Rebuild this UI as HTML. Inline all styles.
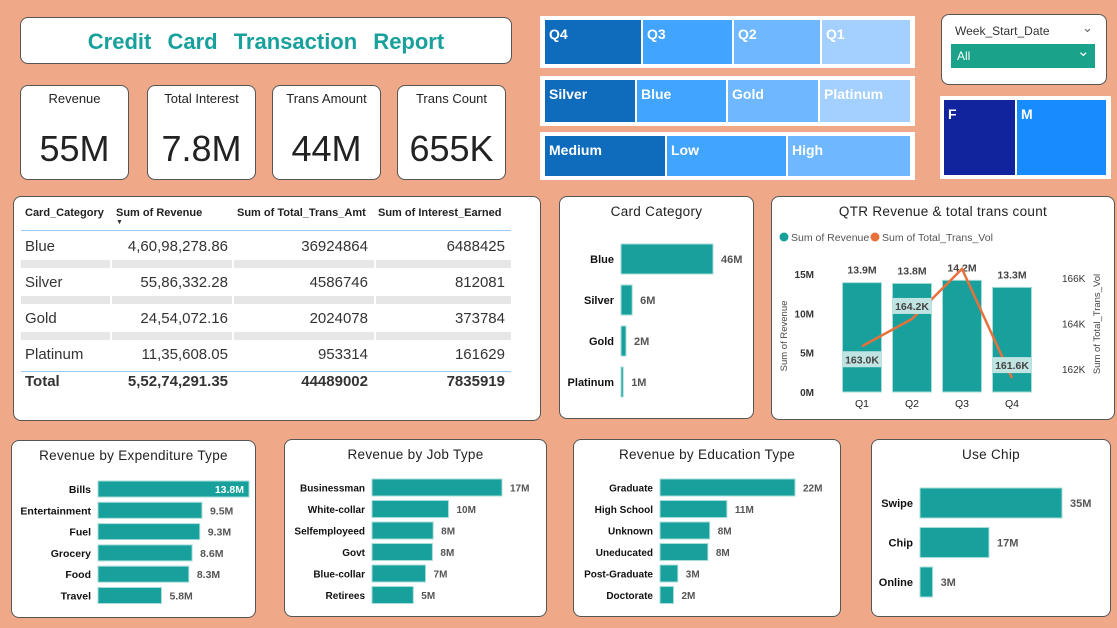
<!DOCTYPE html>
<html><head><meta charset="utf-8">
<style>
body{margin:0;width:1117px;height:628px;background:#EFA888;position:relative;overflow:hidden;font-family:"Liberation Sans",sans-serif;}
.p{position:absolute;background:#fff;border:1px solid #555;border-radius:8px;box-sizing:border-box;}
.t{position:absolute;white-space:nowrap;}
.kl{position:absolute;left:0;right:0;top:5px;text-align:center;font-size:13px;color:#222;}
.kv{position:absolute;left:0;right:0;top:42px;text-align:center;font-size:36px;color:#222;}
.ct{position:absolute;left:0;right:0;top:7px;text-align:center;font-size:13.5px;color:#222;letter-spacing:0.3px}
.fr{position:absolute;background:#fff;}
.cell{position:absolute;color:#fff;font-weight:bold;font-size:14px;padding:6px 0 0 4px;box-sizing:border-box;}
.th{position:absolute;top:10px;font-size:11px;font-weight:bold;color:#222}
.td{position:absolute;font-size:15px;color:#333}
</style></head><body>
<div class="p" style="left:20px;top:17px;width:492px;height:47px;">
<div class="t" style="left:0;right:0;top:11px;text-align:center;font-size:22px;font-weight:bold;color:#17a09c;word-spacing:10px">Credit Card Transaction Report</div></div>

<div class="p" style="left:20px;top:85px;width:109px;height:95px;"><div class="kl">Revenue</div><div class="kv">55M</div></div>
<div class="p" style="left:147px;top:85px;width:109px;height:95px;"><div class="kl">Total Interest</div><div class="kv">7.8M</div></div>
<div class="p" style="left:272px;top:85px;width:109px;height:95px;"><div class="kl">Trans Amount</div><div class="kv">44M</div></div>
<div class="p" style="left:397px;top:85px;width:109px;height:95px;"><div class="kl">Trans Count</div><div class="kv">655K</div></div>

<div class="fr" style="left:540px;top:16px;width:375px;height:52px;">
<div class="cell" style="left:5px;top:4px;width:96px;height:44px;background:#0f6cbd">Q4</div>
<div class="cell" style="left:103px;top:4px;width:89px;height:44px;background:#41a5ff">Q3</div>
<div class="cell" style="left:194px;top:4px;width:86px;height:44px;background:#6fb8ff">Q2</div>
<div class="cell" style="left:282px;top:4px;width:88px;height:44px;background:#a3d0ff">Q1</div></div>
<div class="fr" style="left:540px;top:76px;width:375px;height:50px;">
<div class="cell" style="left:5px;top:4px;width:90px;height:42px;background:#0f6cbd">Silver</div>
<div class="cell" style="left:97px;top:4px;width:89px;height:42px;background:#41a5ff">Blue</div>
<div class="cell" style="left:188px;top:4px;width:90px;height:42px;background:#6fb8ff">Gold</div>
<div class="cell" style="left:280px;top:4px;width:90px;height:42px;background:#a3d0ff">Platinum</div></div>
<div class="fr" style="left:540px;top:132px;width:375px;height:48px;">
<div class="cell" style="left:5px;top:4px;width:120px;height:40px;background:#0f6cbd">Medium</div>
<div class="cell" style="left:127px;top:4px;width:119px;height:40px;background:#41a5ff">Low</div>
<div class="cell" style="left:248px;top:4px;width:122px;height:40px;background:#6fb8ff">High</div></div>

<div class="p" style="left:941px;top:14px;width:166px;height:71px;">
<div class="t" style="left:13px;top:9px;font-size:12px;color:#333">Week_Start_Date</div>
<div class="t" style="left:140px;top:5px;font-size:13px;color:#666">⌄</div>
<div style="position:absolute;left:9px;top:29px;width:144px;height:24px;background:#1aa38a;">
<div class="t" style="left:6px;top:5px;font-size:12px;color:#fff">All</div><div class="t" style="left:126px;top:-2px;font-size:15px;color:#fff">⌄</div></div></div>
<div class="fr" style="left:940px;top:96px;width:171px;height:83px;">
<div class="cell" style="left:4px;top:4px;width:71px;height:75px;background:#12239e">F</div>
<div class="cell" style="left:77px;top:4px;width:89px;height:75px;background:#168cff">M</div></div>

<div class="p" style="left:13px;top:196px;width:528px;height:225px;">
<div class="th" style="left:11px">Card_Category</div>
<div class="th" style="left:102px">Sum of Revenue</div><div class="t" style="left:102px;top:22px;font-size:7px;color:#333">▼</div>
<div class="th" style="left:223px">Sum of Total_Trans_Amt</div>
<div class="th" style="left:364px">Sum of Interest_Earned</div>
<div style="position:absolute;left:7px;top:33px;width:490px;height:1px;background:#9cc9f5"></div>
<div id="tbody"></div>
<div style="position:absolute;left:7px;top:174px;width:490px;height:1px;background:#9cc9f5"></div>
<div class="td" style="left:11px;top:176px;font-weight:bold">Total</div>
<div class="td" style="right:312px;top:176px;font-weight:bold">5,52,74,291.35</div>
<div class="td" style="right:172px;top:176px;font-weight:bold">44489002</div>
<div class="td" style="right:35px;top:176px;font-weight:bold">7835919</div>
</div>

<div class="p" style="left:559px;top:196px;width:195px;height:223px;"><div class="ct">Card Category</div><svg id="cc" width="195" height="223" style="position:absolute;left:-1px;top:-1px"></svg></div>

<div class="p" style="left:771px;top:196px;width:344px;height:224px;">
<div class="ct">QTR Revenue &amp; total trans count</div>
<svg id="qtr" width="344" height="224" style="position:absolute;left:-1px;top:-1px"></svg></div>

<div class="p" style="left:11px;top:440px;width:245px;height:178px;"><div class="ct">Revenue by Expenditure Type</div><svg id="ex" width="245" height="178" style="position:absolute;left:-1px;top:-1px"></svg></div>
<div class="p" style="left:284px;top:439px;width:263px;height:178px;"><div class="ct">Revenue by Job Type</div><svg id="jb" width="263" height="178" style="position:absolute;left:-1px;top:-1px"></svg></div>
<div class="p" style="left:573px;top:439px;width:268px;height:178px;"><div class="ct">Revenue by Education Type</div><svg id="ed" width="268" height="178" style="position:absolute;left:-1px;top:-1px"></svg></div>
<div class="p" style="left:871px;top:439px;width:240px;height:178px;"><div class="ct">Use Chip</div><svg id="uc" width="240" height="178" style="position:absolute;left:-1px;top:-1px"></svg></div>

<script>
const tblCats=["Blue","Silver","Gold","Platinum"];
const tblRev=["4,60,98,278.86","55,86,332.28","24,54,072.16","11,35,608.05"];
const tblAmt=["36924864","4586746","2024078","953314"];
const tblInt=["6488425","812081","373784","161629"];

const ccCats=["Blue","Silver","Gold","Platinum"];
const ccVals=[46.1,5.6,2.5,1.1];
const ccLabels=["46M","6M","2M","1M"];
const exCats=["Bills","Entertainment","Fuel","Grocery","Food","Travel"];
const exVals=[13.8,9.5,9.3,8.6,8.3,5.8];
const exLabels=["13.8M","9.5M","9.3M","8.6M","8.3M","5.8M"];
const jbCats=["Businessman","White-collar","Selfemployeed","Govt","Blue-collar","Retirees"];
const jbVals=[17.0,10.0,8.0,7.9,7.0,5.4];
const jbLabels=["17M","10M","8M","8M","7M","5M"];
const edCats=["Graduate","High School","Unknown","Uneducated","Post-Graduate","Doctorate"];
const edVals=[22.0,10.9,8.1,7.8,2.9,2.2];
const edLabels=["22M","11M","8M","8M","3M","2M"];
const ucCats=["Swipe","Chip","Online"];
const ucVals=[35.0,17.0,3.1];
const ucLabels=["35M","17M","3M"];

const qCats=["Q1","Q2","Q3","Q4"];
const qRev=[13.9,13.8,14.2,13.3];
const qRevLabels=["13.9M","13.8M","14.2M","13.3M"];
const qVol=[163.0,164.2,166.4,161.6];
const qVolLabels=["163.0K","164.2K","","161.6K"];
const qLeftTicks=[0,5,10,15];
const qRightTicks=[162,164,166];

const NS="http://www.w3.org/2000/svg";
function mk(svg,tag,attrs,txt){const e=document.createElementNS(NS,tag);for(const k in attrs)e.setAttribute(k,attrs[k]);if(txt!==undefined)e.textContent=txt;svg.appendChild(e);return e;}

const tb=document.getElementById('tbody');
tblCats.forEach((c,i)=>{
  const y=41+i*36;
  const row=document.createElement('div');
  
  
  row.style.cssText='position:absolute;left:0;top:'+y+'px;width:100%;height:30px';
  row.innerHTML='<div class="td" style="left:11px;top:0">'+c+'</div><div class="td" style="right:312px;top:0">'+tblRev[i]+'</div><div class="td" style="right:172px;top:0">'+tblAmt[i]+'</div><div class="td" style="right:35px;top:0">'+tblInt[i]+'</div>';
  tb.appendChild(row);
  if(i<3){[[7,89],[98,120],[220,140],[362,135]].forEach(b=>{const d=document.createElement('div');d.style.cssText='position:absolute;left:'+b[0]+'px;top:'+(y+22)+'px;width:'+b[1]+'px;height:8px;background:#e6e6e6';tb.appendChild(d);});}
});

function hbar(id,cats,vals,labels,x0,maxW,maxV,y0,step,bh,fs,inside){
  const svg=document.getElementById(id);
  const sx=v=>v/maxV*maxW;
  cats.forEach((c,i)=>{
    const y=y0+i*step;
    const l=mk(svg,'text',{x:x0-7,y:y+bh/2+4,'text-anchor':'end','font-size':fs,'font-weight':'bold',fill:'#111'},c);
    
    
    const r=mk(svg,'rect',{x:x0,y:y,width:sx(vals[i]),height:bh,fill:'#17a09c',stroke:'#a8dcd9','stroke-width':1});
    
    
    const isIn=inside&&i===0;
    const v=mk(svg,'text',{x:isIn?x0+sx(vals[i])-5:x0+sx(vals[i])+8,y:y+bh/2+4,'text-anchor':isIn?'end':'start','font-size':fs,'font-weight':'bold',fill:isIn?'#fff':'#555'},labels[i]);
    
    
  });
}
hbar('cc',ccCats,ccVals,ccLabels,62,92,46.1,48,41,30,11,false);
hbar('ex',exCats,exVals,exLabels,87,151,13.8,41,21.3,16,10.5,true);
hbar('jb',jbCats,jbVals,jbLabels,88,130,17,40,21.5,17,10,false);
hbar('ed',edCats,edVals,edLabels,87,135,22,40,21.5,17,10,false);
hbar('uc',ucCats,ucVals,ucLabels,49,142,35,49,39.5,30,11,false);

(function(){
  const svg=document.getElementById('qtr');
  const ox=771, oy=196;
  const yL=v=>392-oy-v*118/15;
  const yR=v=>369-oy-(v-162)*22.75;
  const cx=i=>862-ox+i*50;
  const bw=39;
  mk(svg,'circle',{cx:13,cy:41,r:4.5,fill:'#17a09c'});
  mk(svg,'text',{x:20,y:45,'font-size':10.5,fill:'#555'},'Sum of Revenue');
  mk(svg,'circle',{cx:104,cy:41,r:4.5,fill:'#e8703a'});
  mk(svg,'text',{x:111,y:45,'font-size':10.5,fill:'#555'},'Sum of Total_Trans_Vol');
  qLeftTicks.forEach(t=>mk(svg,'text',{x:43,y:yL(t)+4,'text-anchor':'end','font-size':10,'font-weight':'bold',fill:'#333'},t+'M'));
  qRightTicks.forEach(t=>mk(svg,'text',{x:291,y:yR(t)+4,'font-size':10,fill:'#333'},t+'K'));
  mk(svg,'text',{x:16,y:140,'font-size':9.5,fill:'#444','text-anchor':'middle',transform:'rotate(-90 16 140)'},'Sum of Revenue');
  mk(svg,'text',{x:329,y:128,'font-size':9.5,fill:'#444','text-anchor':'middle',transform:'rotate(-90 329 128)'},'Sum of Total_Trans_Vol');
  qCats.forEach((c,i)=>{
    const r=mk(svg,'rect',{x:cx(i)-bw/2,y:yL(qRev[i]),width:bw,height:yL(0)-yL(qRev[i]),fill:'#17a09c',stroke:'#a8dcd9','stroke-width':1});
    
    
    mk(svg,'text',{x:cx(i),y:yL(qRev[i])-9,'text-anchor':'middle','font-size':10.5,'font-weight':'bold',fill:'#444'},qRevLabels[i]);
    mk(svg,'text',{x:cx(i),y:211,'text-anchor':'middle','font-size':10.5,fill:'#222'},c);
  });
  const pts=qVol.map((v,i)=>(cx(i))+','+yR(v)).join(' ');
  const ln=mk(svg,'polyline',{points:pts,fill:'none',stroke:'#e8703a','stroke-width':2.5});
  
  
  qVol.forEach((v,i)=>{
    if(!qVolLabels[i])return;
    const ly=i===0?yR(v)+13:yR(v)-13;
    mk(svg,'rect',{x:cx(i)-bw/2,y:ly-8,width:bw,height:16,fill:'#bfe4e2'});
    mk(svg,'text',{x:cx(i),y:ly+4,'text-anchor':'middle','font-size':10.5,'font-weight':'bold',fill:'#444'},qVolLabels[i]);
  });
})();
</script>
</body></html>
